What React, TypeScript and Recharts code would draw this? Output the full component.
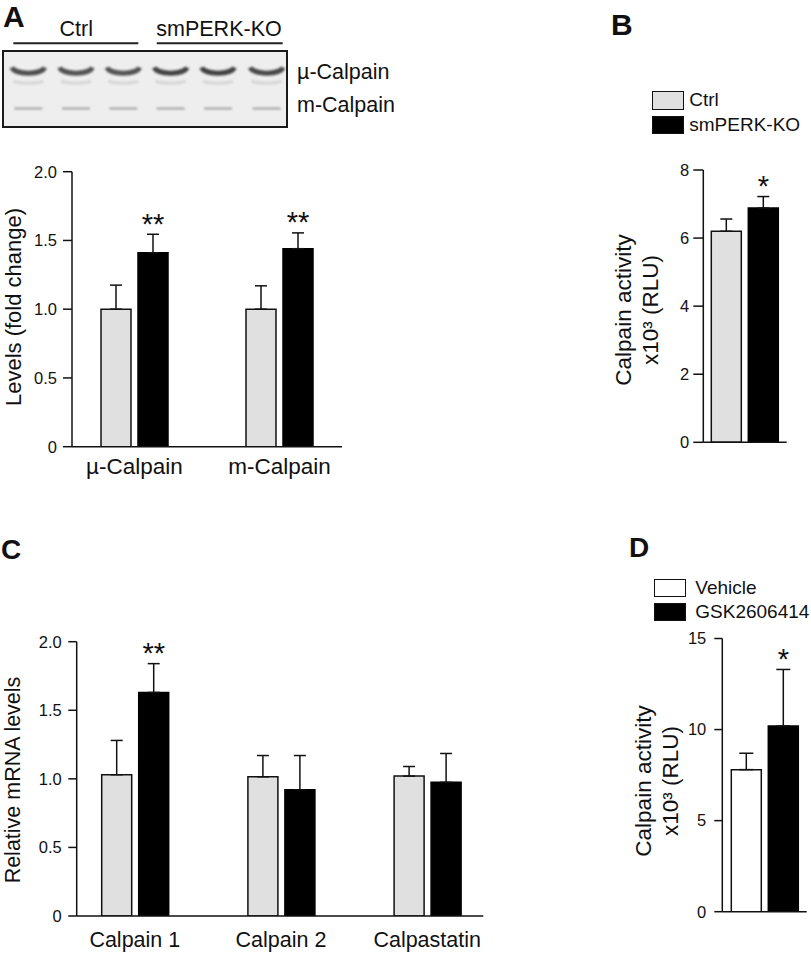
import React from "react";
import { BarChart, Bar, XAxis, YAxis, ErrorBar, LabelList, Legend } from "recharts";

const FONT = "'Liberation Sans', Arial, Helvetica, sans-serif";
const INK = "#111";
const GREY = "#e0e0e0";

/* ── A: protein levels (fold change) ── */
const proteinNames = ["µ-Calpain", "m-Calpain"];
const proteinCtrl = [1.0, 1.0];
const proteinCtrlErr = [0.175, 0.17];
const proteinKO = [1.41, 1.44];
const proteinKOErr = [0.135, 0.115];
const proteinSig = ["**", "**"];
const foldTicks = [0, 0.5, 1, 1.5, 2];

/* ── B: calpain activity, smPERK-KO ── */
const activityGroup = [""];
const activitySeries = ["Ctrl", "smPERK-KO"];
const activityCtrl = [6.2];
const activityCtrlErr = [0.36];
const activityKO = [6.88];
const activityKOErr = [0.34];
const activitySig = ["*"];
const activityTicks = [0, 2, 4, 6, 8];

/* ── C: mRNA levels ── */
const mrnaNames = ["Calpain 1", "Calpain 2", "Calpastatin"];
const mrnaCtrl = [1.03, 1.015, 1.02];
const mrnaCtrlErr = [0.25, 0.155, 0.07];
const mrnaKO = [1.63, 0.92, 0.975];
const mrnaKOErr = [0.21, 0.25, 0.21];
const mrnaSig = ["**", "", ""];

/* ── D: calpain activity, GSK2606414 ── */
const gskGroup = [""];
const gskSeries = ["Vehicle", "GSK2606414"];
const gskVehicle = [7.8];
const gskVehicleErr = [0.9];
const gskTreated = [10.2];
const gskTreatedErr = [3.1];
const gskSig = ["*"];
const gskTicks = [0, 5, 10, 15];

/* western blot lanes (decoration only) */
const blotLanes = [28.3, 76, 123.3, 170.7, 218, 266.7];
const blotUpperShade = ["#4f4f4f", "#525252", "#555", "#444", "#424242", "#4a4a4a"];

function rows(names: string[], a: number[], aErr: number[], b: number[], bErr: number[], sig: string[]) {
  return names.map((name, i) => ({
    name,
    a: a[i],
    aErr: [0, aErr[i]],
    b: b[i],
    bErr: [0, bErr[i]],
    sig: sig[i],
  }));
}

const fmtFold = (v: number) => (v === 0 ? "0" : v.toFixed(1));

const starLabel = (values: number[], errs: number[]) => (props: any) => {
  const vb = props.viewBox || {};
  const x = Number(props.x ?? vb.x);
  const y = Number(props.y ?? vb.y);
  const w = Number(props.width ?? vb.width);
  const h = Number(props.height ?? vb.height);
  const i = props.index;
  if (!props.value || i == null) return null;
  const perUnit = h / values[i];
  const capY = y - errs[i] * perUnit;
  return (
    <text x={x + w / 2} y={capY - 0.5} textAnchor="middle" fontSize={29} fontFamily={FONT} fill={INK}>
      {props.value}
    </text>
  );
};

function SideTitle(props: any) {
  const { lines, xs, midY, size } = props;
  return (
    <g>
      {lines.map((t: string, i: number) => (
        <text
          key={i}
          x={xs[i]}
          y={midY}
          transform={`rotate(-90 ${xs[i]} ${midY})`}
          textAnchor="middle"
          dominantBaseline="central"
          fontSize={size}
          fontFamily={FONT}
          fill={INK}
        >
          {t}
        </text>
      ))}
    </g>
  );
}

const legendBox = (order: string[], fills: Record<string, string>, gap: number, pitch: number) => (props: any) => {
  const items = [...(props.payload || [])].sort((p: any, q: any) => order.indexOf(p.value) - order.indexOf(q.value));
  return (
    <div style={{ fontFamily: FONT, fontSize: 19, color: INK }}>
      {items.map((e: any) => (
        <div key={e.value} style={{ display: "flex", alignItems: "center", height: pitch }}>
          <span
            style={{
              display: "inline-block",
              width: 32,
              height: 18.5,
              boxSizing: "border-box",
              border: "1.5px solid #111",
              background: fills[e.value],
            }}
          />
          <span style={{ marginLeft: gap }}>{e.value}</span>
        </div>
      ))}
    </div>
  );
};

const axisStroke = { stroke: INK, strokeWidth: 1.5 };
const tickText = { fontSize: 16.5, fill: INK, fontFamily: FONT };

function ProteinChart() {
  const data = rows(proteinNames, proteinCtrl, proteinCtrlErr, proteinKO, proteinKOErr, proteinSig);
  return (
    <BarChart width={360} height={340} data={data} barGap={7} margin={{ top: 21.7, right: 18, bottom: 3.3, left: 12 }}>
      <XAxis
        dataKey="name"
        height={40}
        interval={0}
        padding={{ left: -10, right: -10 }}
        axisLine={axisStroke}
        tickLine={false}
        tickSize={0}
        tickMargin={11.5}
        tick={{ fontSize: 22.5, fill: INK, fontFamily: FONT }}
      />
      <YAxis
        width={60}
        type="number"
        domain={[0, 2]}
        ticks={foldTicks}
        interval={0}
        allowDataOverflow
        tickFormatter={fmtFold}
        axisLine={axisStroke}
        tickLine={axisStroke}
        tickSize={9}
        tickMargin={6}
        tick={tickText}
        label={<SideTitle lines={["Levels (fold change)"]} xs={[13.3]} midY={157} size={22} />}
      />
      <Bar dataKey="a" name="Ctrl" fill={GREY} stroke={INK} strokeWidth={1.5} barSize={30} isAnimationActive={false}>
        <ErrorBar dataKey="aErr" width={6} stroke={INK} strokeWidth={1.5} direction="y" />
      </Bar>
      <Bar dataKey="b" name="smPERK-KO" fill="#000" stroke="#000" strokeWidth={1.5} barSize={30} isAnimationActive={false}>
        <ErrorBar dataKey="bErr" width={6} stroke={INK} strokeWidth={1.5} direction="y" />
        <LabelList dataKey="sig" content={starLabel(proteinKO, proteinKOErr)} />
      </Bar>
    </BarChart>
  );
}

function ActivityChart() {
  const data = rows(activityGroup, activityCtrl, activityCtrlErr, activityKO, activityKOErr, activitySig);
  return (
    <BarChart width={211} height={390} data={data} barGap={7} margin={{ top: 90, right: 24.3, bottom: 25.7, left: 43.3 }}>
      <XAxis dataKey="name" height={2} axisLine={axisStroke} tick={false} tickLine={false} />
      <YAxis
        width={60}
        type="number"
        domain={[0, 8]}
        ticks={activityTicks}
        interval={0}
        allowDataOverflow
        axisLine={axisStroke}
        tickLine={axisStroke}
        tickSize={10}
        tickMargin={4}
        tick={tickText}
        label={<SideTitle lines={["Calpain activity", "x10³ (RLU)"]} xs={[23, 50]} midY={230} size={22.5} />}
      />
      <Legend
        layout="vertical"
        align="center"
        verticalAlign="middle"
        wrapperStyle={{ top: 8.3, left: 52.3, width: "auto", height: "auto" }}
        content={legendBox(activitySeries, { Ctrl: GREY, "smPERK-KO": "#000" }, 5, 24.4)}
      />
      <Bar dataKey="a" name={activitySeries[0]} fill={GREY} stroke={INK} strokeWidth={1.5} barSize={30} isAnimationActive={false}>
        <ErrorBar dataKey="aErr" width={6} stroke={INK} strokeWidth={1.5} direction="y" />
      </Bar>
      <Bar dataKey="b" name={activitySeries[1]} fill="#000" stroke="#000" strokeWidth={1.5} barSize={30} isAnimationActive={false}>
        <ErrorBar dataKey="bErr" width={6} stroke={INK} strokeWidth={1.5} direction="y" />
        <LabelList dataKey="sig" content={starLabel(activityKO, activityKOErr)} />
      </Bar>
    </BarChart>
  );
}

function MrnaChart() {
  const data = rows(mrnaNames, mrnaCtrl, mrnaCtrlErr, mrnaKO, mrnaKOErr, mrnaSig);
  return (
    <BarChart width={500} height={354} data={data} barGap={7} margin={{ top: 41.7, right: 16.7, bottom: 2, left: 16.7 }}>
      <XAxis
        dataKey="name"
        height={36}
        interval={0}
        padding={{ left: -15, right: -17 }}
        axisLine={axisStroke}
        tickLine={false}
        tickSize={0}
        tickMargin={15.5}
        tick={{ fontSize: 21.5, fill: INK, fontFamily: FONT }}
      />
      <YAxis
        width={60}
        type="number"
        domain={[0, 2]}
        ticks={foldTicks}
        interval={0}
        allowDataOverflow
        tickFormatter={fmtFold}
        axisLine={axisStroke}
        tickLine={axisStroke}
        tickSize={8.4}
        tickMargin={6.6}
        tick={tickText}
        label={<SideTitle lines={["Relative mRNA levels"]} xs={[12.5]} midY={180} size={21.5} />}
      />
      <Bar dataKey="a" name="Ctrl" fill={GREY} stroke={INK} strokeWidth={1.5} barSize={30} isAnimationActive={false}>
        <ErrorBar dataKey="aErr" width={6} stroke={INK} strokeWidth={1.5} direction="y" />
      </Bar>
      <Bar dataKey="b" name="smPERK-KO" fill="#000" stroke="#000" strokeWidth={1.5} barSize={30} isAnimationActive={false}>
        <ErrorBar dataKey="bErr" width={6} stroke={INK} strokeWidth={1.5} direction="y" />
        <LabelList dataKey="sig" content={starLabel(mrnaKO, mrnaKOErr)} />
      </Bar>
    </BarChart>
  );
}

function GskChart() {
  const data = rows(gskGroup, gskVehicle, gskVehicleErr, gskTreated, gskTreatedErr, gskSig);
  return (
    <BarChart width={211} height={394} data={data} barGap={7} margin={{ top: 78.5, right: 4.3, bottom: 40.3, left: 62.3 }}>
      <XAxis dataKey="name" height={2} axisLine={axisStroke} tick={false} tickLine={false} />
      <YAxis
        width={60}
        type="number"
        domain={[0, 15]}
        ticks={gskTicks}
        interval={0}
        allowDataOverflow
        axisLine={axisStroke}
        tickLine={axisStroke}
        tickSize={8}
        tickMargin={8}
        tick={tickText}
        label={<SideTitle lines={["Calpain activity", "x10³ (RLU)"]} xs={[43, 70]} midY={221} size={22.5} />}
      />
      <Legend
        layout="vertical"
        align="center"
        verticalAlign="middle"
        wrapperStyle={{ top: 16, left: 54.3, width: "auto", height: "auto" }}
        content={legendBox(gskSeries, { Vehicle: "#fff", GSK2606414: "#000" }, 9, 24)}
      />
      <Bar dataKey="a" name={gskSeries[0]} fill="#fff" stroke={INK} strokeWidth={1.5} barSize={30} isAnimationActive={false}>
        <ErrorBar dataKey="aErr" width={7} stroke={INK} strokeWidth={1.5} direction="y" />
      </Bar>
      <Bar dataKey="b" name={gskSeries[1]} fill="#000" stroke="#000" strokeWidth={1.5} barSize={30} isAnimationActive={false}>
        <ErrorBar dataKey="bErr" width={7} stroke={INK} strokeWidth={1.5} direction="y" />
        <LabelList dataKey="sig" content={starLabel(gskTreated, gskTreatedErr)} />
      </Bar>
    </BarChart>
  );
}

function Overlay() {
  return (
    <svg width={811} height={954} style={{ position: "absolute", left: 0, top: 0, pointerEvents: "none" }} fontFamily={FONT}>
      <defs>
        <filter id="smear" x="-20%" y="-50%" width="140%" height="200%">
          <feGaussianBlur stdDeviation="1.1" />
        </filter>
      </defs>
      <text x={3} y={27} fontSize={30} fontWeight="bold" fill={INK}>A</text>
      <text x={611} y={35} fontSize={30} fontWeight="bold" fill={INK}>B</text>
      <text x={1} y={559} fontSize={28} fontWeight="bold" fill={INK}>C</text>
      <text x={629} y={556.7} fontSize={28} fontWeight="bold" fill={INK}>D</text>

      <text x={76.3} y={35.7} textAnchor="middle" fontSize={21.5} fill={INK}>Ctrl</text>
      <text x={219} y={35.7} textAnchor="middle" fontSize={21.5} fill={INK}>smPERK-KO</text>
      <line x1={13.3} x2={138.3} y1={43.3} y2={43.3} stroke="#222" strokeWidth={2} />
      <line x1={156.7} x2={282.7} y1={43.3} y2={43.3} stroke="#222" strokeWidth={2} />

      <rect x={3} y={51} width={284} height={76} fill="#eeeeee" stroke="#1a1a1a" strokeWidth={2} />
      <g filter="url(#smear)">
        {blotLanes.map((c, i) => (
          <g key={i}>
            <path
              d={`M${c - 16.5} 67.5 C${c - 13} 75 ${c + 13} 75 ${c + 16.5} 67.5`}
              stroke={blotUpperShade[i]}
              strokeWidth={5}
              fill="none"
            />
            <path d={`M${c - 15} 81 C${c - 8} 84 ${c + 8} 84 ${c + 15} 81`} stroke="#d6d6d6" strokeWidth={3} fill="none" />
            <line x1={c - 14} x2={c + 14} y1={108.5} y2={108.5} stroke="#a2a2a2" strokeWidth={2} />
          </g>
        ))}
      </g>
      <text x={297} y={79} fontSize={21.5} fill={INK}>µ-Calpain</text>
      <text x={297} y={112.3} fontSize={21.5} fill={INK}>m-Calpain</text>
    </svg>
  );
}

export default function App() {
  return (
    <div style={{ position: "absolute", left: 0, top: 0, width: 811, height: 954, background: "#fff", fontFamily: FONT }}>
      <Overlay />
      <div style={{ position: "absolute", left: 0, top: 150 }}>
        <ProteinChart />
      </div>
      <div style={{ position: "absolute", left: 600, top: 80 }}>
        <ActivityChart />
      </div>
      <div style={{ position: "absolute", left: 0, top: 600 }}>
        <MrnaChart />
      </div>
      <div style={{ position: "absolute", left: 600, top: 560 }}>
        <GskChart />
      </div>
    </div>
  );
}
